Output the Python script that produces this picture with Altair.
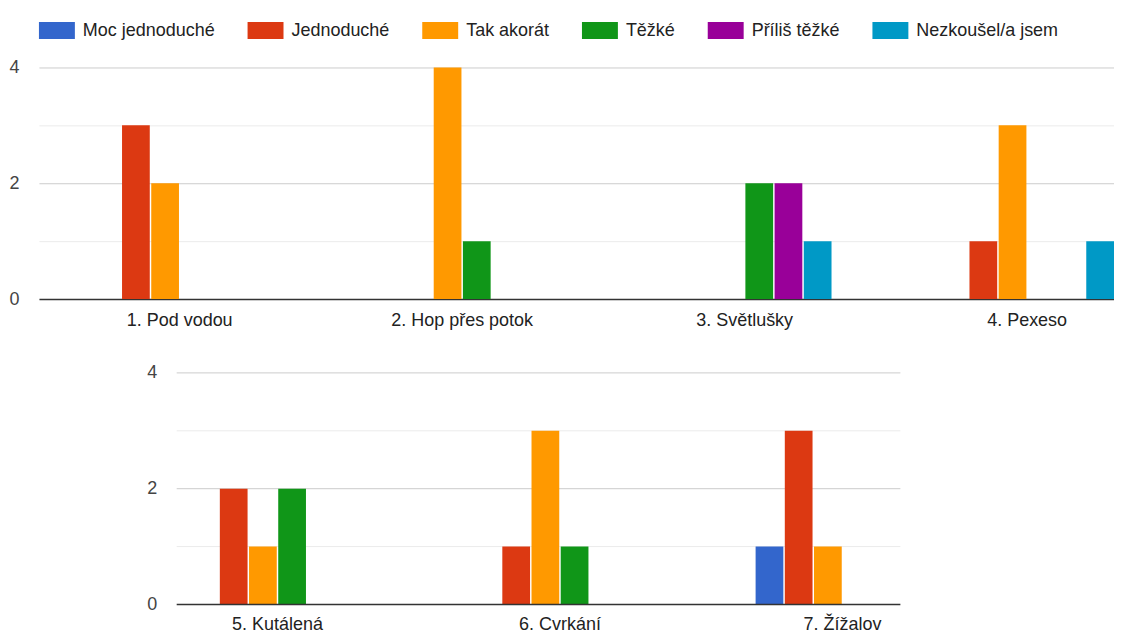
import altair as alt
import pandas as pd

series = ["Moc jednoduché", "Jednoduché", "Tak akorát", "Těžké", "Příliš těžké", "Nezkoušel/a jsem"]
colors = ["#3366cc", "#dc3912", "#ff9900", "#109618", "#990099", "#0099c6"]

top_games = ["1. Pod vodou", "2. Hop přes potok", "3. Světlušky", "4. Pexeso"]
bottom_games = ["5. Kutálená", "6. Cvrkání", "7. Žížalov"]
games = top_games + bottom_games

moc_jednoduche = [0, 0, 0, 0, 0, 0, 1]
jednoduche = [3, 0, 0, 1, 2, 1, 3]
tak_akorat = [2, 4, 0, 3, 1, 3, 1]
tezke = [0, 1, 2, 0, 2, 1, 0]
prilis_tezke = [0, 0, 2, 0, 0, 0, 0]
nezkousel = [0, 0, 1, 1, 0, 0, 0]

y_ticks = [0, 1, 2, 3, 4]
major_levels = [2, 4]
minor_levels = [1, 3]

series_values = [moc_jednoduche, jednoduche, tak_akorat, tezke, prilis_tezke, nezkousel]

rows = []
for s, vals in zip(series, series_values):
    for g, v in zip(games, vals):
        rows.append({"game": g, "series": s, "value": v})
df = pd.DataFrame(rows)

FONT = "Liberation Sans"
GRID_COND = {
    "condition": [
        {"test": "datum.value === 0", "value": "#333333"},
        {"test": "datum.value % 2 === 0", "value": "#cccccc"},
    ],
    "value": "#ebebeb",
}


def y_axis(grid, offset=0):
    kw = dict(
        values=y_ticks,
        labelExpr="datum.value % 2 === 0 ? datum.label : ''",
        title=None,
        ticks=False,
        tickSize=0,
        domain=False,
        labelPadding=20,
        labelFontSize=18,
        labelFont=FONT,
        labelColor="#444444",
        minExtent=31,
        maxExtent=31,
        grid=grid,
        offset=offset,
    )
    if grid:
        kw["gridColor"] = GRID_COND
        kw["gridWidth"] = {"condition": {"test": "datum.value === 0", "value": 1.5}, "value": 1}
    return alt.Axis(**kw)


def bars(panel_games, width, pad_outer, axis, legend, label_pad):
    data = df[df["game"].isin(panel_games)]
    x_axis = alt.Axis(
        title=None,
        labelAngle=0,
        ticks=False,
        domain=False,
        labelPadding=label_pad,
        labelFontSize=18,
        labelFont=FONT,
        labelColor="#222222",
        labelLimit=0,
    )
    return alt.Chart(data).mark_bar().encode(
        x=alt.X(
            "game:N",
            sort=panel_games,
            scale=alt.Scale(paddingInner=0.385, paddingOuter=pad_outer, align=1),
            axis=x_axis,
        ),
        xOffset=alt.XOffset("series:N", sort=series, scale=alt.Scale(paddingInner=0.05, paddingOuter=0)),
        y=alt.Y("value:Q", scale=alt.Scale(domain=[0, 4]), axis=axis),
        color=alt.Color("series:N", sort=series, scale=alt.Scale(domain=series, range=colors), legend=legend),
    ).properties(width=width, height=232)


legend = alt.Legend(
    orient="top",
    direction="horizontal",
    title=None,
    symbolType="M-1,-0.47H1V0.47H-1Z",
    symbolSize=1296,
    symbolStrokeWidth=0,
    labelFontSize=18,
    labelFont=FONT,
    labelColor="#222222",
    labelOffset=8,
    columnPadding=32,
    offset=28,
    labelLimit=0,
)

top = bars(top_games, 1077, 0.0954, y_axis(True), legend, 13)

# bottom panel: plot starts further right; axis and grid shifted accordingly
shift = 138
grid_w = 725
bottom_w = 892
minor_df = pd.DataFrame({"level": minor_levels})
major_df = pd.DataFrame({"level": major_levels})
base_df = pd.DataFrame({"level": [0]})
bottom_axis = y_axis(False, offset=-shift)


def grid_rule(d, color, width):
    return alt.Chart(d).mark_rule(color=color, strokeWidth=width).encode(
        y=alt.Y("level:Q", scale=alt.Scale(domain=[0, 4]), axis=bottom_axis),
        x=alt.value(shift),
        x2=alt.value(shift + grid_w),
    )


bottom_bars = bars(bottom_games, bottom_w, 0.2685, bottom_axis, None, 11)
bottom = alt.layer(
    grid_rule(minor_df, "#ebebeb", 1),
    grid_rule(major_df, "#cccccc", 1),
    bottom_bars,
    grid_rule(base_df, "#333333", 1.5),
).properties(width=bottom_w, height=232)

chart = (
    alt.vconcat(top, bottom, spacing=34)
    .resolve_scale(x="independent", color="independent")
    .resolve_legend(color="independent")
    .properties(padding={"left": 0, "top": 4, "right": 0, "bottom": 0})
    .configure_view(stroke=None)
)

chart.save("out.html", embed_options={"renderer": "svg", "actions": False})
